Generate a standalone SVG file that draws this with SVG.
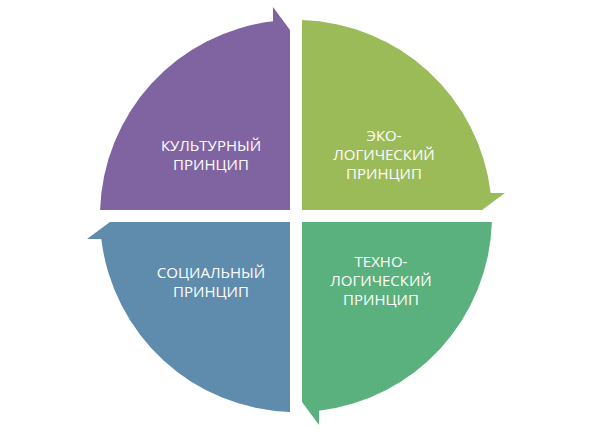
<svg xmlns="http://www.w3.org/2000/svg" width="595" height="436" viewBox="0 0 595 436">
<style>
.lbl{font-family:"Open Sans","Liberation Sans",sans-serif;font-size:15px;fill:#ffffff;text-anchor:middle}
</style>
<rect width="595" height="436" fill="#ffffff"/>
<g id="connectors"></g>
<g id="node-cultural">
<path d="M290 210 L100.1 210 A196 196 0 0 1 273 21.35 L273 7 L290 30 Z" fill="#8064A2"/>
<text class="lbl" x="211" y="151">КУЛЬТУРНЫЙ</text>
<text class="lbl" x="211" y="170">ПРИНЦИП</text>
</g>
<g id="node-eco">
<path d="M302 210 L302 20.1 A196 196 0 0 1 490.65 193 L505 193 L482 210 Z" fill="#9BBB59"/>
<text class="lbl" x="384" y="140.5">ЭКО-</text>
<text class="lbl" x="384" y="159.5">ЛОГИЧЕСКИЙ</text>
<text class="lbl" x="384" y="178.5">ПРИНЦИП</text>
</g>
<g id="node-techno">
<path d="M302 222 L491.9 222 A196 196 0 0 1 319 410.65 L319 425 L302 402 Z" fill="#5BB17D"/>
<text class="lbl" x="381" y="267">ТЕХНО-</text>
<text class="lbl" x="381" y="286">ЛОГИЧЕСКИЙ</text>
<text class="lbl" x="381" y="305">ПРИНЦИП</text>
</g>
<g id="node-social">
<path d="M290 222 L290 411.9 A196 196 0 0 1 101.35 239 L87 239 L110 222 Z" fill="#5F8BAD"/>
<text class="lbl" x="211" y="277.5">СОЦИАЛЬНЫЙ</text>
<text class="lbl" x="211" y="296.5">ПРИНЦИП</text>
</g>
</svg>
